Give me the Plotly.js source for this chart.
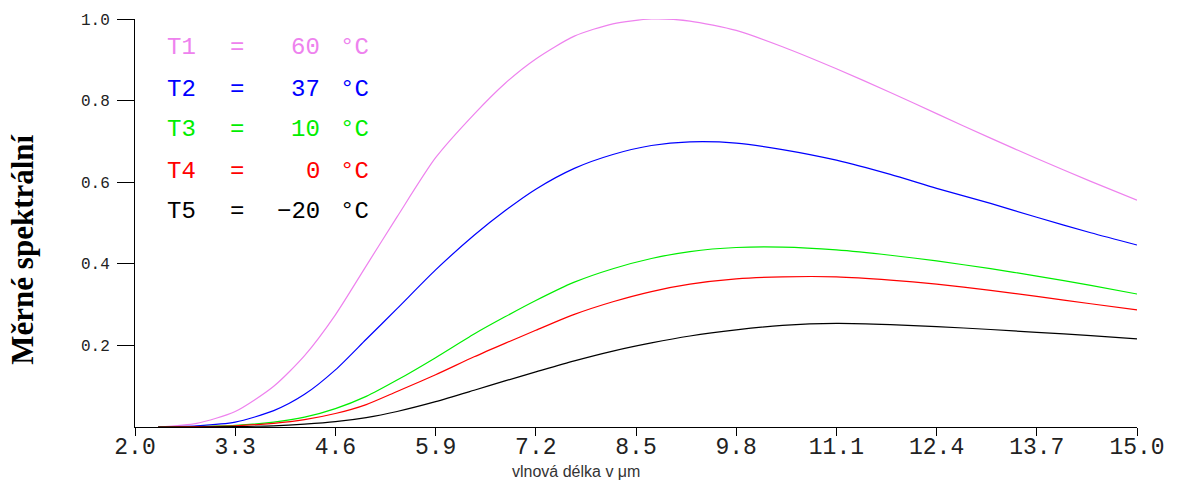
<!DOCTYPE html>
<html>
<head>
<meta charset="utf-8">
<script src="https://cdn.plot.ly/plotly-3.0.1.min.js"></script>
<style>html,body{margin:0;padding:0;background:#fff;}#chart{width:1186px;height:482px;}</style>
</head>
<body>
<div id="chart"></div>
<script>
// wavelength (µm)
const wavelength = [2.3, 2.8, 3.3, 3.8, 4.2, 4.6, 5.0, 5.4, 5.9, 6.4, 6.8, 7.2, 7.7, 8.2, 8.7, 9.2, 9.8, 10.4, 11.1, 11.8, 12.4, 13.1, 13.7, 14.4, 15.0];
const seriesT1 = [0, 0.009, 0.038, 0.1, 0.175, 0.275, 0.395, 0.515, 0.66, 0.767, 0.842, 0.902, 0.958, 0.988, 1.0, 0.995, 0.972, 0.932, 0.878, 0.82, 0.768, 0.708, 0.658, 0.602, 0.556];
const seriesT2 = [0, 0.003, 0.012, 0.04, 0.08, 0.14, 0.215, 0.29, 0.385, 0.47, 0.53, 0.583, 0.634, 0.668, 0.69, 0.699, 0.696, 0.68, 0.654, 0.619, 0.585, 0.548, 0.514, 0.476, 0.446];
const seriesT3 = [0, 0.001, 0.004, 0.012, 0.024, 0.045, 0.075, 0.115, 0.17, 0.228, 0.27, 0.31, 0.355, 0.388, 0.413, 0.43, 0.44, 0.441, 0.434, 0.421, 0.407, 0.388, 0.37, 0.347, 0.326];
const seriesT4 = [0, 0.001, 0.003, 0.009, 0.018, 0.033, 0.055, 0.087, 0.128, 0.172, 0.205, 0.237, 0.276, 0.307, 0.332, 0.35, 0.363, 0.368, 0.368, 0.36, 0.35, 0.335, 0.32, 0.302, 0.287];
const seriesT5 = [0, 0, 0.001, 0.003, 0.007, 0.013, 0.023, 0.038, 0.062, 0.09, 0.113, 0.135, 0.162, 0.186, 0.206, 0.223, 0.238, 0.249, 0.254, 0.251, 0.246, 0.239, 0.232, 0.224, 0.216];

const seriesNames = ["T1", "T2", "T3", "T4", "T5"];
const temperatures = ["60", "37", "10", "0", "\u221220"];
const seriesColors = ["#ee82ee", "#0000ff", "#00ee00", "#ff0000", "#000000"];
const xTickVals = [2.0, 3.3, 4.6, 5.9, 7.2, 8.5, 9.8, 11.1, 12.4, 13.7, 15.0];
const xTickText = ["2.0", "3.3", "4.6", "5.9", "7.2", "8.5", "9.8", "11.1", "12.4", "13.7", "15.0"];
const yTickVals = [0.2, 0.4, 0.6, 0.8, 1.0];
const yTickText = ["0.2", "0.4", "0.6", "0.8", "1.0"];
const yTitle = "Měrné spektrální";
const xTitle = "vlnová délka v μm";

const allSeries = [seriesT1, seriesT2, seriesT3, seriesT4, seriesT5];
const traces = allSeries.map((ys, i) => ({
  x: wavelength, y: ys, type: "scatter", mode: "lines", name: seriesNames[i],
  line: {color: seriesColors[i], width: 1.2, shape: "spline", smoothing: 0.7},
  hoverinfo: "skip"
}));

const legendFont = (c) => ({family: "Liberation Mono, monospace", size: 24, color: c});
const rowY = [0.929, 0.828, 0.728, 0.627, 0.527];
const annotations = [];
seriesNames.forEach((n, i) => {
  const f = legendFont(seriesColors[i]);
  annotations.push({xref: "paper", yref: "paper", x: 0.030, y: rowY[i], xanchor: "left", yanchor: "middle", text: n, showarrow: false, font: f});
  annotations.push({xref: "paper", yref: "paper", x: 0.102, y: rowY[i], xanchor: "center", yanchor: "middle", text: "=", showarrow: false, font: f});
  annotations.push({xref: "paper", yref: "paper", x: 0.187, y: rowY[i], xanchor: "right", yanchor: "middle", text: temperatures[i], showarrow: false, font: f});
  annotations.push({xref: "paper", yref: "paper", x: 0.203, y: rowY[i], xanchor: "left", yanchor: "middle", text: "°C", showarrow: false, font: f});
});
annotations.push({xref: "paper", yref: "paper", x: -0.112, y: 0.434, xanchor: "center", yanchor: "middle", textangle: -90,
  text: yTitle, showarrow: false, font: {family: "Liberation Serif, serif", size: 31, color: "#000", weight: "bold"}});
annotations.push({xref: "paper", yref: "paper", x: 0.44, y: -0.108, xanchor: "center", yanchor: "middle",
  text: xTitle, showarrow: false, font: {family: "Liberation Sans, Arial, sans-serif", size: 16, color: "#333"}});

const layout = {
  width: 1186, height: 482,
  margin: {l: 135, r: 49, t: 19, b: 55},
  paper_bgcolor: "#fff", plot_bgcolor: "#fff",
  showlegend: false,
  xaxis: {
    range: [2.0, 15.0], showgrid: false, zeroline: false,
    showline: true, linecolor: "#000", linewidth: 1,
    ticks: "outside", ticklen: 8, tickcolor: "#000", tickwidth: 1,
    tickmode: "array", tickvals: xTickVals, ticktext: xTickText,
    ticklabelstandoff: -10,
    tickfont: {family: "Liberation Mono, monospace", size: 23, color: "#222"}
  },
  yaxis: {
    range: [0, 1.0], showgrid: false, zeroline: false,
    showline: true, linecolor: "#000", linewidth: 1,
    ticks: "outside", ticklen: 17, tickcolor: "#000", tickwidth: 1,
    tickmode: "array", tickvals: yTickVals, ticktext: yTickText,
    ticklabelstandoff: 4,
    tickfont: {family: "Liberation Mono, monospace", size: 16, color: "#222"}
  },
  annotations: annotations
};

Plotly.newPlot("chart", traces, layout, {displayModeBar: false, staticPlot: true});
</script>
</body>
</html>
